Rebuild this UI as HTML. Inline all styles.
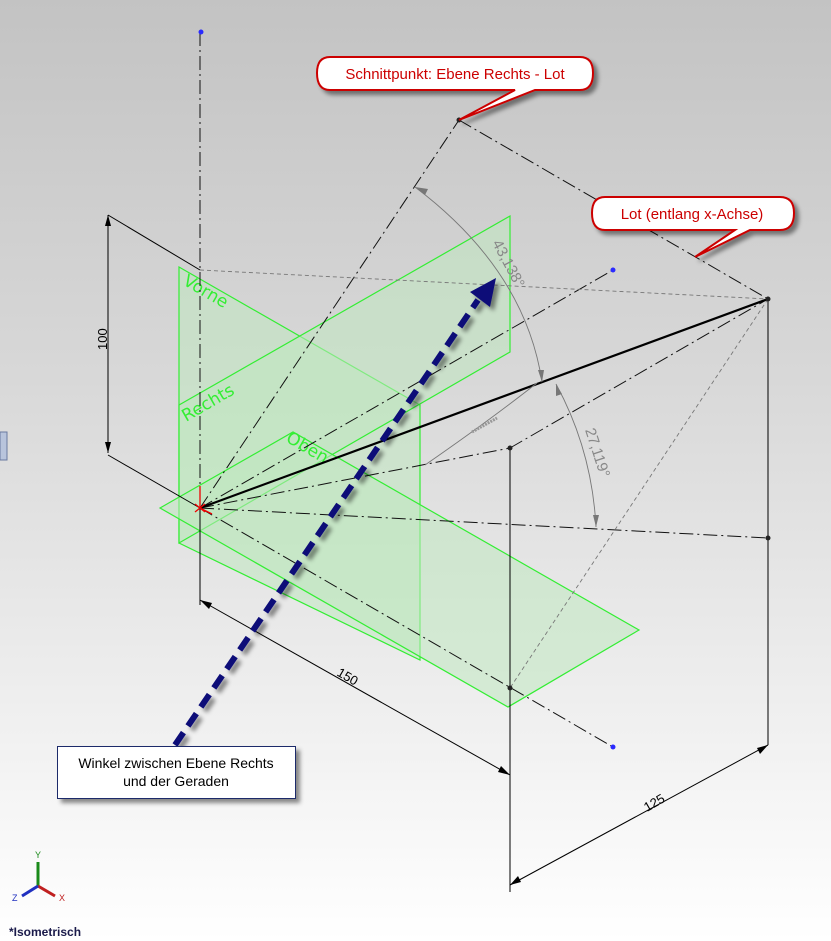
<!DOCTYPE html>
<html><head><meta charset="utf-8"><style>
html,body{margin:0;padding:0;}
body{width:831px;height:941px;overflow:hidden;background:linear-gradient(#c3c3c3 0%,#d8d8d8 40%,#f2f2f2 80%,#ffffff 100%);font-family:"Liberation Sans",sans-serif;}
</style></head><body>
<svg width="831" height="941" viewBox="0 0 831 941" xmlns="http://www.w3.org/2000/svg" style="position:absolute;left:0;top:0">
<defs>
<filter id="sh" x="-20%" y="-20%" width="150%" height="160%"><feDropShadow dx="4" dy="4" stdDeviation="2" flood-color="#000" flood-opacity="0.45"/></filter>
</defs>
<!-- green planes -->
<g fill="#bfe8bf" fill-opacity="0.55" stroke="#33ee33" stroke-width="1.2">
<polygon points="179,267 420,405 420,660 179,543"/>
<polygon points="179,405 510,216 510,352 179,543"/>
<polygon points="160,508 293,432 639,630 508,707"/>
</g>
<g fill="#33ee33" font-family="DejaVu Sans, sans-serif" font-size="17">
<text transform="translate(182,284) rotate(30)">Vorne</text>
<text transform="translate(186,422) rotate(-30)">Rechts</text>
<text transform="translate(285,441) rotate(30)">Oben</text>
</g>
<!-- construction lines -->
<g stroke="#111" stroke-width="1" fill="none" stroke-dasharray="14,4,2,4">
<line x1="200" y1="32" x2="200" y2="508"/>
<line x1="200" y1="508" x2="459" y2="120"/>
<line x1="459" y1="120" x2="768" y2="299"/>
<line x1="200" y1="508" x2="613" y2="270"/>
<line x1="510" y1="448" x2="768" y2="299"/>
<line x1="200" y1="508" x2="768" y2="538"/>
<line x1="200" y1="508" x2="613" y2="747"/>
<line x1="200" y1="508" x2="510" y2="448"/>
</g>
<g stroke="#777" stroke-width="0.9" fill="none" stroke-dasharray="4,3">
<line x1="200" y1="270" x2="768" y2="299"/>
<line x1="768" y1="299" x2="510" y2="688"/>
</g>
<!-- solid lines -->
<g stroke="#000" stroke-width="1" fill="none">
<line x1="200" y1="508" x2="200" y2="605"/>
<line x1="510" y1="448" x2="510" y2="892"/>
<line x1="768" y1="299" x2="768" y2="745"/>
<line x1="200" y1="600" x2="510" y2="775"/>
<line x1="510" y1="885" x2="768" y2="745"/>
<line x1="108" y1="215" x2="108" y2="453"/>
<line x1="108" y1="215" x2="200" y2="270"/>
<line x1="108" y1="455" x2="200" y2="508"/>
</g>
<line x1="200" y1="508" x2="768" y2="299" stroke="#000" stroke-width="2.2"/>
<!-- dim arrows -->
<g fill="#000">
<polygon points="200,600 212,603 209,609"/>
<polygon points="510,775 498,772 501,766"/>
<polygon points="510,885 518,876 521,882"/>
<polygon points="768,745 760,754 757,748"/>
<polygon points="108,215 105,226 111,226"/>
<polygon points="108,453 105,442 111,442"/>
</g>
<g font-size="13" fill="#000" font-family="Liberation Sans, sans-serif">
<text transform="translate(336,675) rotate(30)">150</text>
<text transform="translate(647,812) rotate(-30)">125</text>
<text transform="translate(107,350) rotate(-90)">100</text>
</g>
<!-- angle arcs -->
<g stroke="#777" stroke-width="0.9" fill="none">
<path d="M415,187 Q525,270 542,382"/>
<path d="M556,384 Q592,450 596,527"/>
<path d="M425,465 Q490,420 537,383"/>
</g>
<g fill="#777">
<polygon points="415,187 428,189 425,195"/>
<polygon points="542,382 538,370 544,370"/>
<polygon points="556,384 556,396 562,394"/>
<polygon points="596,527 593,515 599,515"/>
</g>
<g fill="#888" font-size="15" font-family="Liberation Sans, sans-serif">
<text transform="translate(492,243) rotate(62)">43,138°</text>
<text transform="translate(585,430) rotate(72)">27,119°</text>
</g>
<line x1="472" y1="432" x2="497" y2="418" stroke="#999" stroke-width="3" stroke-dasharray="2,1"/>
<!-- points -->
<g fill="#222">
<circle cx="459" cy="120" r="2.5"/><circle cx="768" cy="299" r="2.5"/>
<circle cx="510" cy="448" r="2.5"/><circle cx="768" cy="538" r="2.5"/>
<circle cx="510" cy="688" r="2.5"/>
</g>
<g fill="#2a2aff">
<circle cx="201" cy="32" r="2.5"/><circle cx="613" cy="270" r="2.5"/><circle cx="613" cy="747" r="2.5"/>
</g>
<!-- origin -->
<g stroke="#e00" stroke-width="1.3"><line x1="200" y1="508" x2="200" y2="486"/><line x1="200" y1="508" x2="212" y2="514"/><line x1="195" y1="504" x2="205" y2="512"/><line x1="205" y1="504" x2="195" y2="512"/></g>
<!-- blue arrow -->
<g filter="url(#sh)">
<line x1="175" y1="745" x2="478" y2="300" stroke="#0a0a78" stroke-width="6" stroke-dasharray="15,8"/>
<polygon points="496,278 470,292 490,307" fill="#0a0a78"/>
</g>
<!-- callouts -->
<g filter="url(#sh)">
<path d="M330,57 H580 Q593,57 593,73 Q593,90 580,90 H535 L459,120 L515,90 H330 Q317,90 317,73 Q317,57 330,57 Z" fill="#fff" stroke="#c00" stroke-width="2"/>
<path d="M605,197 H780 Q794,197 794,213 Q794,230 780,230 H750 L695,257 L735,230 H605 Q592,230 592,213 Q592,197 605,197 Z" fill="#fff" stroke="#c00" stroke-width="2"/>
<rect x="57.5" y="746.5" width="238" height="52" fill="#fff" stroke="#1a2a6a" stroke-width="1"/>
</g>
<g fill="#c00" font-size="15" font-family="Liberation Sans, sans-serif" text-anchor="middle">
<text x="455" y="79">Schnittpunkt: Ebene Rechts - Lot</text>
<text x="692" y="219">Lot (entlang x-Achse)</text>
</g>
<g fill="#000" font-size="14" font-family="Liberation Sans, sans-serif" text-anchor="middle">
<text x="176" y="768">Winkel zwischen Ebene Rechts</text>
<text x="176" y="786">und der Geraden</text>
</g>
<!-- triad -->
<g stroke-width="3">
<line x1="38" y1="886" x2="38" y2="862" stroke="#1a8a1a"/>
<line x1="38" y1="886" x2="55" y2="896" stroke="#c02020"/>
<line x1="38" y1="886" x2="22" y2="896" stroke="#2030c0"/>
</g>
<g font-size="9" font-family="Liberation Sans, sans-serif"><text x="35" y="858" fill="#1a8a1a">Y</text><text x="59" y="901" fill="#c02020">X</text><text x="12" y="901" fill="#2030c0">Z</text></g>
<text x="9" y="936" font-size="12" font-weight="bold" fill="#1a1a4a" font-family="Liberation Sans, sans-serif">*Isometrisch</text>
<rect x="0" y="432" width="7" height="28" fill="#b8c4dc" stroke="#6a7aa0" stroke-width="1"/>
</svg>
</body></html>
